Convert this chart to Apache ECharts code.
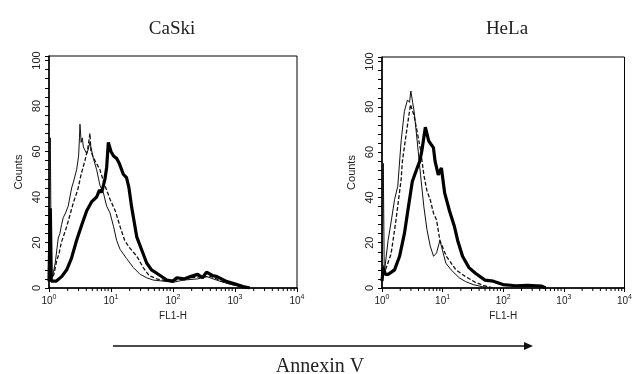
<!DOCTYPE html>
<html>
<head>
<meta charset="utf-8">
<script src="https://cdn.jsdelivr.net/npm/echarts@6/dist/echarts.min.js"></script>
<style>
  html, body { margin: 0; padding: 0; background: #fff; }
  #main { width: 635px; height: 374px; }
</style>
</head>
<body>
<div id="main"></div>
<script>
// panel titles
var panels = ['CaSki', 'HeLa'];
var yTicks = [0, 20, 40, 60, 80, 100];
var minorTicks = [2, 3, 4, 5, 6, 7, 8, 9, 20, 30, 40, 50, 60, 70, 80, 90,
  200, 300, 400, 500, 600, 700, 800, 900, 2000, 3000, 4000, 5000, 6000, 7000, 8000, 9000];

// CaSki [FL1-H, counts]
var caskiThin = [[1, 4], [1.05, 66], [1.09, 6], [1.14, 5], [1.26, 11], [1.41, 22], [1.5, 24], [1.6, 28], [1.7, 31],
  [1.85, 33], [2.04, 36], [2.32, 44], [2.5, 47], [2.79, 52], [3.0, 58], [3.1, 66], [3.16, 72], [3.3, 64],
  [3.45, 66], [3.58, 62], [4.06, 59], [4.3, 61], [4.57, 64], [5.19, 57], [5.87, 52], [6.3, 48], [6.65, 45],
  [7.52, 42], [8.51, 36], [9.64, 33], [11.0, 27], [12.3, 21], [14.0, 17], [17.8, 13], [22.9, 9], [29.5, 6],
  [37.6, 4.5], [47.9, 3.5], [70, 3], [100, 2.5], [150, 3.5], [250, 4], [350, 5], [500, 3.5], [750, 2],
  [1000, 1.2], [1350, 0.4], [1700, 0]];
var caskiDashed = [[1, 3], [1.05, 20], [1.09, 4], [1.2, 6], [1.33, 12], [1.45, 15], [1.58, 20], [1.93, 27],
  [2.07, 30], [2.5, 38], [2.9, 43], [3.3, 50], [3.8, 56], [4.27, 62], [4.57, 68], [4.75, 60], [5.1, 58],
  [5.5, 56], [6.65, 52], [7.52, 47], [8.51, 43], [9.64, 39], [11.7, 34], [14.0, 27], [16.6, 21], [19.5, 18],
  [26.0, 14], [33.1, 9], [41, 5.5], [55, 4], [80, 3], [110, 3.5], [180, 4.5], [300, 5], [420, 5], [600, 3],
  [900, 1.5], [1300, 0.5], [1700, 0]];
var caskiThick = [[1, 3], [1.05, 35], [1.09, 3], [1.3, 3], [1.6, 5], [1.93, 8], [2.3, 13], [2.79, 21],
  [3.4, 28], [4.06, 34], [4.9, 38], [5.87, 40], [6.5, 43], [7.08, 42], [8.0, 48], [8.51, 53], [9.06, 64],
  [10.0, 60], [11.0, 58], [12.3, 57], [13.5, 55], [15.8, 50], [17.8, 48.5], [19.5, 44], [21.4, 36],
  [26.0, 22.5], [31.3, 16.7], [37.6, 11], [45, 8], [54.6, 6.5], [79.4, 3.5], [98.9, 3], [115, 4.5],
  [150, 4], [191, 5], [250, 6], [300, 4.5], [347, 7], [432, 5.5], [513, 5], [741, 2.8], [955, 2],
  [1349, 0.6], [1738, 0]];

// HeLa
var helaThin = [[1, 4], [1.05, 55], [1.09, 6], [1.14, 11], [1.26, 21], [1.43, 30], [1.61, 39], [1.82, 45],
  [2.07, 65], [2.34, 78], [2.63, 83], [2.85, 82], [2.99, 87], [3.2, 82], [3.39, 78], [3.8, 65], [4.32, 50],
  [4.9, 36], [5.5, 26], [6.24, 18.5], [7.08, 14], [7.94, 15.5], [9.02, 21], [10.2, 15.5], [11.3, 11],
  [13.8, 8], [18.8, 4.5], [24, 2.8], [32, 1.5], [45, 0.6], [70, 0]];
var helaDashed = [[1, 3], [1.05, 10], [1.09, 6], [1.14, 8], [1.41, 15], [1.7, 30], [2.07, 48], [2.17, 56],
  [2.6, 71], [2.95, 81], [3.39, 76], [3.8, 69], [4.32, 61], [4.9, 50], [5.5, 43], [6.24, 39], [7.08, 33],
  [7.94, 30], [9.02, 21], [11.5, 14], [16.6, 8], [24, 5], [34.7, 2.5], [48, 1], [70, 0]];
var helaThick = [[1, 3], [1.05, 9], [1.14, 6], [1.26, 6], [1.43, 7], [1.61, 8], [1.95, 14], [2.34, 24],
  [2.63, 33], [3.16, 47], [3.8, 53], [4.2, 56], [4.57, 61], [5.19, 71], [5.89, 65], [6.61, 63], [7.05, 62],
  [7.5, 56], [8.47, 50], [9.55, 53], [10.8, 42], [13.0, 34], [15.7, 27], [17.7, 21], [21.3, 14],
  [27.2, 9], [34.7, 6.5], [50, 3.5], [68.4, 3], [98.9, 1.5], [162, 1], [250, 1.2], [432, 0.8], [500, 0]];

var chart = echarts.init(document.getElementById('main'));

var sans = '"Liberation Sans", Arial, sans-serif';
var serif = '"Liberation Serif", "Times New Roman", serif';

var grids = [
  { left: 49, right: 338, top: 56, bottom: 86 },
  { left: 382, right: 3, top: 57, bottom: 86 }
];

function xAxisFor(i) {
  return {
    type: 'log', logBase: 10, min: 1, max: 10000, gridIndex: i,
    axisLine: { lineStyle: { color: '#000', width: 1.5 } },
    axisTick: { show: true, length: 4, lineStyle: { color: '#000' } },
    splitLine: { show: false },
    axisLabel: {
      margin: 6, color: '#222', fontFamily: sans, fontSize: 10,
      formatter: function (v) { return '10{s|' + Math.round(Math.log10(v)) + '}'; },
      rich: { s: { fontSize: 7, fontFamily: sans, color: '#222', padding: [0, 0, 7, 0] } }
    },
    name: 'FL1-H', nameLocation: 'middle', nameGap: 21,
    nameTextStyle: { fontFamily: sans, fontSize: 10, color: '#222' }
  };
}

function yAxisFor(i) {
  return {
    type: 'value', min: 0, max: 102, interval: 20, gridIndex: i,
    axisLine: { show: true, lineStyle: { color: '#000', width: 1.5 } },
    axisTick: { show: true, length: 4, lineStyle: { color: '#000' } },
    minorTick: { show: true, splitNumber: 5, length: 4, lineStyle: { color: '#000' } },
    splitLine: { show: false },
    axisLabel: {
      rotate: 90, margin: 7, color: '#222', fontFamily: sans, fontSize: 11,
      formatter: function (v) { return yTicks.indexOf(v) >= 0 ? String(v) : ''; }
    },
    name: 'Counts', nameLocation: 'middle', nameGap: 25, nameRotate: 90,
    nameTextStyle: { fontFamily: sans, fontSize: 11, color: '#222' }
  };
}

function line(data, idx, style) {
  return {
    type: 'line', data: data, xAxisIndex: idx, yAxisIndex: idx,
    showSymbol: false, symbol: 'none', smooth: false, silent: true,
    lineStyle: style
  };
}

function tickSeries(idx) {
  return {
    type: 'custom', xAxisIndex: idx, yAxisIndex: idx, silent: true, clip: false,
    data: minorTicks.map(function (v) { return [v, 0]; }),
    renderItem: function (params, api) {
      var p = api.coord([api.value(0), 0]);
      return {
        type: 'line',
        shape: { x1: p[0], y1: p[1], x2: p[0], y2: p[1] + 3 },
        style: { stroke: '#000', lineWidth: 1 }
      };
    }
  };
}

var thin = { color: '#111', width: 1 };
var dashed = { color: '#111', width: 1.3, type: [4, 2] };
var thick = { color: '#000', width: 3.2 };

var option = {
  animation: false,
  backgroundColor: '#fff',
  grid: grids.map(function (g) {
    return Object.assign({ show: true, borderColor: '#000', borderWidth: 1, backgroundColor: 'transparent' }, g);
  }),
  xAxis: [xAxisFor(0), xAxisFor(1)],
  yAxis: [yAxisFor(0), yAxisFor(1)],
  series: [
    line(caskiThin, 0, thin), line(caskiDashed, 0, dashed), line(caskiThick, 0, thick),
    line(helaThin, 1, thin), line(helaDashed, 1, dashed), line(helaThick, 1, thick),
    tickSeries(0), tickSeries(1)
  ],
  graphic: [
    { type: 'text', x: 172, y: 29, style: { text: panels[0], font: '19px ' + serif, fill: '#222', textAlign: 'center', textVerticalAlign: 'middle' } },
    { type: 'text', x: 507, y: 29, style: { text: panels[1], font: '19px ' + serif, fill: '#222', textAlign: 'center', textVerticalAlign: 'middle' } },
    { type: 'line', shape: { x1: 113, y1: 346, x2: 526, y2: 346 }, style: { stroke: '#111', lineWidth: 1.5 } },
    { type: 'polygon', shape: { points: [[533, 346], [524, 342], [524, 350]] }, style: { fill: '#111' } },
    { type: 'text', x: 320, y: 367, style: { text: 'Annexin V', font: '20px ' + serif, fill: '#222', textAlign: 'center', textVerticalAlign: 'middle' } }
  ]
};

chart.setOption(option);
</script>
</body>
</html>
